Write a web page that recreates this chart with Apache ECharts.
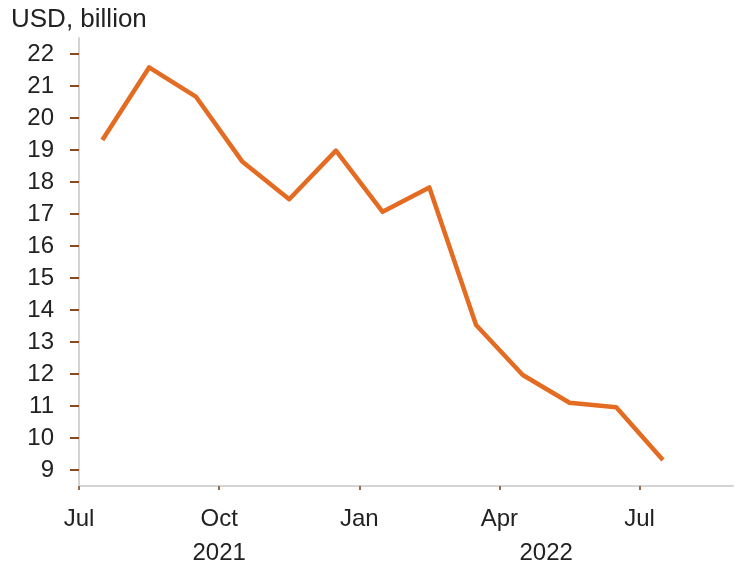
<!DOCTYPE html>
<html>
<head>
<meta charset="utf-8">
<script src="https://cdn.jsdelivr.net/npm/echarts@6/dist/echarts.min.js"></script>
<style>
  html, body { margin: 0; padding: 0; background: #fff; }
  #main { width: 740px; height: 571px; }
</style>
</head>
<body>
<div id="main"></div>
<script>
// monthly values, Jul 2021 .. Jul 2022
var months = ["2021-07", "2021-08", "2021-09", "2021-10", "2021-11", "2021-12",
              "2022-01", "2022-02", "2022-03", "2022-04", "2022-05", "2022-06", "2022-07"];
var values = [19.31, 21.58, 20.67, 18.63, 17.46, 18.98, 17.07, 17.83, 13.53, 11.97, 11.1, 10.96, 9.31];

// x axis counts months from Jul 2021
var quarterTicks = [0, 3, 6, 9, 12];
var quarterLabels = ["Jul", "Oct", "Jan", "Apr", "Jul"];
var yearTicks = [3, 10];
var yearLabels = ["2021", "2022"];
var yTicks = [9, 10, 11, 12, 13, 14, 15, 16, 17, 18, 19, 20, 21, 22];

var font = 'Arial, "Liberation Sans", sans-serif';
var textColor = "#222";

var chart = echarts.init(document.getElementById("main"));

var data = [];
for (var i = 0; i < values.length; i++) {
  // points sit in the middle of each month
  data.push([i + 0.5, values[i]]);
}

chart.setOption({
  animation: false,
  title: {
    text: "USD, billion",
    left: 6,
    top: 2,
    textStyle: { fontFamily: font, fontSize: 26, fontWeight: "normal", color: textColor }
  },
  grid: { left: 79, right: 7, top: 38, bottom: 85 },
  xAxis: [
    {
      type: "value",
      min: 0,
      max: 14,
      position: "bottom",
      axisLine: { show: true, lineStyle: { color: "#d4d4d4", width: 2 } },
      axisTick: { show: true, customValues: quarterTicks, length: 4, lineStyle: { color: "#9a6a4a", width: 2 } },
      axisLabel: {
        customValues: quarterTicks,
        margin: 21,
        fontFamily: font,
        fontSize: 24,
        color: textColor,
        formatter: function (v) {
          var k = quarterTicks.indexOf(v);
          return k >= 0 ? quarterLabels[k] : "";
        }
      },
      splitLine: { show: false }
    },
    {
      type: "value",
      min: 0,
      max: 14,
      position: "bottom",
      offset: 34,
      axisLine: { show: false },
      axisTick: { show: false },
      axisLabel: {
        customValues: yearTicks,
        margin: 21,
        fontFamily: font,
        fontSize: 24,
        color: textColor,
        formatter: function (v) {
          var k = yearTicks.indexOf(v);
          return k >= 0 ? yearLabels[k] : "";
        }
      },
      splitLine: { show: false }
    }
  ],
  yAxis: {
    type: "value",
    min: 8.5,
    max: 22.5,
    axisLine: { show: true, lineStyle: { color: "#d4d4d4", width: 2 } },
    axisTick: { show: true, customValues: yTicks, length: 9, lineStyle: { color: "#8a4a1a", width: 2 } },
    axisLabel: {
      customValues: yTicks,
      margin: 25,
      fontFamily: font,
      fontSize: 24,
      color: textColor
    },
    splitLine: { show: false }
  },
  series: [
    {
      name: "USD, billion",
      type: "line",
      xAxisIndex: 0,
      data: data,
      symbol: "none",
      lineStyle: { color: "#e46c22", width: 4.5, join: "round" }
    }
  ]
});
</script>
</body>
</html>
